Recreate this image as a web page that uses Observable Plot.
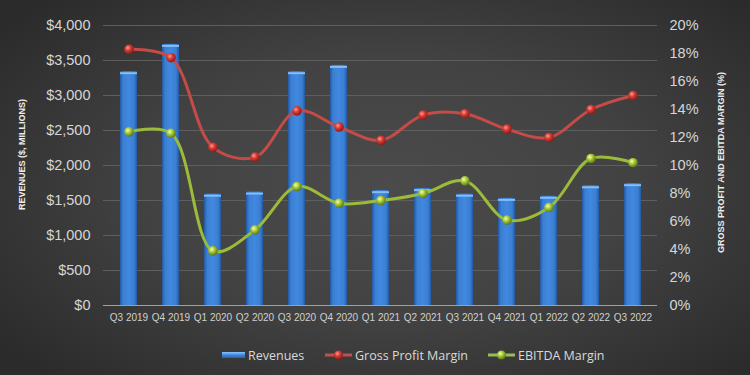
<!DOCTYPE html>
<html><head><meta charset="utf-8">
<script src="https://cdn.jsdelivr.net/npm/d3@7"></script>
<script src="https://cdn.jsdelivr.net/npm/@observablehq/plot@0.6"></script>
<style>
html,body{margin:0;padding:0;}
body{width:750px;height:375px;overflow:hidden;background:radial-gradient(ellipse 65% 70% at 52% 50%, #4b4b4b 0%, #424242 50%, #2b2b2b 100%);font-family:"Liberation Sans",Arial,sans-serif;}
#chart svg{display:block;}
#legend{position:relative;height:40px;width:750px;color:#d9d9d9;font-family:"Open Sans",sans-serif;font-size:12.5px;}
#legend .it{position:absolute;top:11px;display:flex;align-items:center;height:18px;}
#legend svg{display:block;margin-right:1px;}
</style></head>
<body>
<div id="chart"></div>
<div id="legend">
  <div class="it" style="left:222px"><svg width="25" height="10"><defs><linearGradient id="lg1" x1="0" y1="0" x2="0" y2="1"><stop offset="0" stop-color="#8cc4ff"/><stop offset="0.5" stop-color="#3f86dc"/><stop offset="1" stop-color="#2a62ad"/></linearGradient></defs><rect x="0" y="2" width="23" height="6" fill="url(#lg1)"/></svg><span>Revenues</span></div>
  <div class="it" style="left:325px"><svg width="29" height="12"><line x1="0" y1="6" x2="27" y2="6" stroke="#c0504d" stroke-width="3"/><circle cx="13.5" cy="6" r="4.5" fill="url(#redBall)"/></svg><span>Gross Profit Margin</span></div>
  <div class="it" style="left:488px"><svg width="29" height="12"><line x1="0" y1="6" x2="27" y2="6" stroke="#9bbb59" stroke-width="3"/><circle cx="13.5" cy="6" r="4.5" fill="url(#greenBall)"/></svg><span>EBITDA Margin</span></div>
</div>
<script>
const quarters = ["Q3 2019","Q4 2019","Q1 2020","Q2 2020","Q3 2020","Q4 2020","Q1 2021","Q2 2021","Q3 2021","Q4 2021","Q1 2022","Q2 2022","Q3 2022"];
const revenues = [3340,3730,1590,1620,3340,3430,1640,1670,1590,1530,1560,1710,1740];
const grossMargin = [18.3,17.7,11.3,10.6,13.9,12.75,11.8,13.6,13.7,12.6,12.0,14.0,15.0];
const ebitdaMargin = [12.4,12.3,3.9,5.4,8.5,7.3,7.5,8.0,8.9,6.1,7.0,10.5,10.2];
const revTicks = [0,500,1000,1500,2000,2500,3000,3500,4000];
const pctTicks = [0,2,4,6,8,10,12,14,16,18,20];
const leftTitle = "REVENUES ($, MILLIONS)";
const rightTitle = "GROSS PROFIT AND EBITDA MARGIN (%)";

const pctToRev = 4000 / 20;
const data = quarters.map((q,i)=>({q, rev: revenues[i], gpm: grossMargin[i], ebitda: ebitdaMargin[i]}));

const chart = Plot.plot({
  width: 750, height: 335,
  marginTop: 25, marginBottom: 30, marginLeft: 103, marginRight: 93,
  style: {background: "transparent", color: "#d9d9d9", fontFamily: "Liberation Sans, Arial, sans-serif", overflow: "visible"},
  x: {domain: quarters, paddingInner: 0.6, paddingOuter: 0.3, axis: null, label: null},
  y: {domain: [0, 4000], axis: null, label: null},
  marks: [
    Plot.gridY(revTicks, {stroke: "#5e5e5e", strokeOpacity: 1, strokeWidth: 1}),
    Plot.barY(data, {x: "q", y: "rev", fill: "url(#barGrad)"}),
    Plot.tickY(data, {x: "q", y: "rev", stroke: "#86bdf5", strokeWidth: 2, dy: 1.5}),
    Plot.ruleY([0], {stroke: "#a0a0a0", strokeWidth: 1.2}),
    Plot.line(data, {x: "q", y: d => d.gpm * pctToRev, stroke: "#c44b47", strokeWidth: 3, curve: "catmull-rom"}),
    Plot.line(data, {x: "q", y: d => d.ebitda * pctToRev, stroke: "#9bbb3b", strokeWidth: 3, curve: "catmull-rom"}),
    Plot.dot(data, {x: "q", y: d => d.gpm * pctToRev, r: 4.8, fill: "url(#redBall)", stroke: "none"}),
    Plot.dot(data, {x: "q", y: d => d.ebitda * pctToRev, r: 4.8, fill: "url(#greenBall)", stroke: "none"}),
    Plot.axisX({tickSize: 0, tickPadding: 8, fontSize: 10, fill: "#d0d0d0", label: null}),
    Plot.axisY(revTicks, {anchor: "left", tickSize: 0, tickPadding: 13, fontSize: 14.5, fill: "#d6d6d6", tickFormat: d => "$" + d3.format(",")(d), label: null}),
    Plot.axisY(pctTicks.map(p => p * pctToRev), {anchor: "right", tickSize: 0, tickPadding: 12, fontSize: 14.5, fill: "#d6d6d6", tickFormat: d => `${d / pctToRev}%`, label: null}),
    Plot.text([leftTitle], {frameAnchor: "left", textAnchor: "middle", rotate: -90, dx: -81, dy: -11, fontSize: 9, fontWeight: "bold", fill: "#ececec"}),
    Plot.text([rightTitle], {frameAnchor: "right", textAnchor: "middle", rotate: -90, dx: 64, dy: -3, fontSize: 9, fontWeight: "bold", fill: "#ececec"})
  ]
});

d3.select(chart).insert("defs", ":first-child").html(`
  <linearGradient id="barGrad" x1="0" y1="0" x2="1" y2="0">
    <stop offset="0" stop-color="#2559a0"/>
    <stop offset="0.18" stop-color="#3a7fd4"/>
    <stop offset="0.5" stop-color="#4188de"/>
    <stop offset="0.82" stop-color="#3a7fd4"/>
    <stop offset="1" stop-color="#2559a0"/>
  </linearGradient>
  <radialGradient id="redBall" cx="0.38" cy="0.35" r="0.65">
    <stop offset="0" stop-color="#ff9a90"/>
    <stop offset="0.45" stop-color="#d83a33"/>
    <stop offset="1" stop-color="#8a1c18"/>
  </radialGradient>
  <radialGradient id="greenBall" cx="0.38" cy="0.35" r="0.65">
    <stop offset="0" stop-color="#f2ffb0"/>
    <stop offset="0.45" stop-color="#a8c93a"/>
    <stop offset="1" stop-color="#5a7812"/>
  </radialGradient>
`);
document.getElementById("chart").appendChild(chart);
</script>
</body></html>
